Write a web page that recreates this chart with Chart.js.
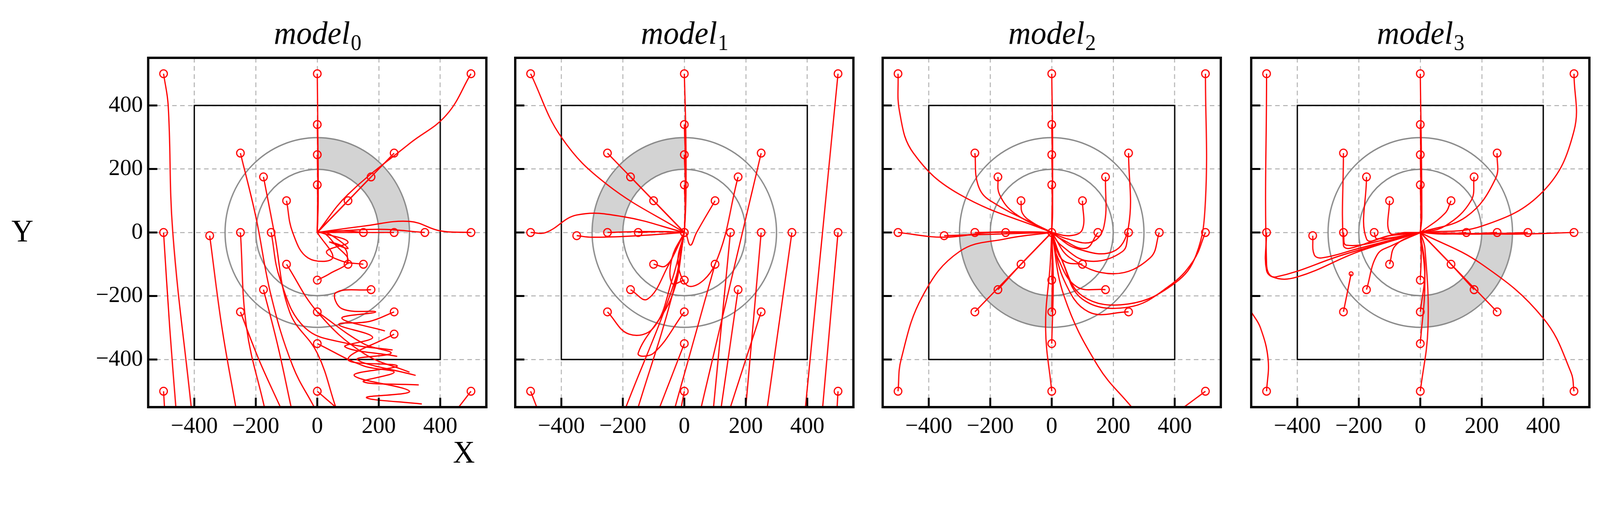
<!DOCTYPE html>
<html>
<head>
<meta charset="utf-8">
<script src="https://cdn.jsdelivr.net/npm/chart.js@4"></script>
<style>
  html, body { margin: 0; background: #fff; overflow: hidden; }
  #stage { position: absolute; left: 0; top: 0; width: 4211px; height: 1295px; transform-origin: 0 0; }
  canvas { position: absolute; top: 0; }
  .lab { position: absolute; font-family: "Liberation Serif", serif; font-size: 80px; color: #000; }
</style>
</head>
<body>
<div id="stage">
  <div class="lab" style="left:1192px; top:1112px;">X</div>
  <div class="lab" style="left:30px; top:546px;">Y</div>
</div>
<script>
// tick values (both axes)
const tickValues = [-400, -200, 0, 200, 400];
const axisMin = -550, axisMax = 550;
const panelTitles = ["0", "1", "2", "3"];
// shaded annulus sector per panel, degrees (counter-clockwise from +x)
const sectorStart = [0, 90, 180, 270];
const sectorEnd = [90, 180, 270, 360];
const innerRadius = 200, outerRadius = 300, boxHalf = 400;

// trajectories, each one starts at its marked start point
const model0 = [
  [[-500,500],[-485,400],[-470,0],[-410,-550]],
  [[0,500],[2,300],[3,100],[0,0]],
  [[500,500],[420,370],[300,280],[100,120],[0,0]],
  [[0,340],[2,200],[0,0]],
  [[0,245],[2,120],[0,0]],
  [[0,150],[2,80],[0,0]],
  [[-250,250],[-200,50],[-150,-200],[-80,-420],[-10,-550]],
  [[250,250],[120,120],[0,0]],
  [[-175,175],[-140,0],[-90,-250],[0,-380],[60,-550]],
  [[175,175],[90,90],[0,0]],
  [[-100,100],[-80,0],[-30,-80],[50,-80],[0,0]],
  [[100,100],[50,50],[0,0]],
  [[-500,0],[-480,-300],[-460,-550]],
  [[-350,-10],[-310,-300],[-265,-550]],
  [[-250,0],[-230,-300],[-172,-550]],
  [[-150,0],[-120,-150],[-40,-300],[100,-350],[245,-370]],
  [[150,0],[80,5],[0,0]],
  [[250,0],[130,0],[0,0]],
  [[350,0],[200,10],[0,0]],
  [[500,0],[400,5],[300,35],[150,20],[0,0]],
  [[-100,-100],[0,-250],[150,-380],[300,-440]],
  [[100,-100],[90,-50],[40,-30],[100,-50],[30,0],[0,0]],
  [[0,-150],[40,-130],[100,-90],[60,-40],[20,0],[0,0]],
  [[-175,-180],[-130,-350],[-85,-550]],
  [[175,-180],[60,-190],[80,-240],[190,-250],[80,-270],[220,-310]],
  [[-250,-250],[-190,-400],[-120,-550]],
  [[250,-250],[170,-280],[70,-290],[180,-330],[90,-360],[260,-390]],
  [[0,-250],[150,-350],[240,-380],[130,-400],[320,-450]],
  [[0,-350],[150,-420],[250,-440],[150,-470],[330,-480]],
  [[-500,-500],[-497,-550]],
  [[0,-500],[60,-550]],
  [[500,-500],[460,-550]],
  [[150,-100],[80,-90],[30,-60],[100,-30],[10,0]],
  [[250,-320],[100,-400],[260,-420],[120,-450],[300,-500],[160,-520],[340,-540]]
];
const model1 = [
  [[-500,500],[-400,300],[-250,150],[0,0]],
  [[0,500],[5,300],[5,100],[0,0]],
  [[500,500],[394,-550]],
  [[0,340],[5,150],[0,0]],
  [[0,245],[4,120],[0,0]],
  [[0,150],[3,60],[0,0]],
  [[-250,250],[-125,125],[0,0]],
  [[250,250],[55,-550]],
  [[-175,175],[-90,90],[0,0]],
  [[175,175],[100,-100],[20,-170],[-20,-100],[0,0]],
  [[-100,100],[-50,50],[0,0]],
  [[100,100],[40,0],[20,-40],[5,0]],
  [[-500,0],[-450,0],[-350,55],[-200,50],[0,0]],
  [[-350,-10],[-300,-15],[-150,-10],[0,0]],
  [[-250,0],[-120,3],[0,0]],
  [[-150,0],[-70,3],[0,0]],
  [[150,0],[95,-550]],
  [[250,0],[200,-550]],
  [[350,0],[270,-550]],
  [[500,0],[450,-550]],
  [[-100,-100],[-60,-105],[-20,-40],[0,0]],
  [[100,-100],[-30,-550]],
  [[0,-150],[-40,-160],[-40,-80],[0,0]],
  [[-175,-180],[-120,-210],[-50,-100],[0,0]],
  [[175,-180],[120,-550]],
  [[-250,-250],[-180,-320],[-100,-300],[-40,-150],[0,0]],
  [[250,-250],[150,-550]],
  [[0,-250],[-100,-380],[-150,-380],[-40,-200],[0,0]],
  [[0,-350],[-80,-550]],
  [[-500,-500],[-480,-550]],
  [[0,-500],[-10,-550]],
  [[500,-500],[497,-550]],
  [[0,0],[-40,-200],[-150,-550]],
  [[0,0],[-30,-150],[-190,-550]]
];
const model2 = [
  [[-500,500],[-495,380],[-450,250],[-300,120],[0,0]],
  [[0,500],[3,250],[0,0]],
  [[500,500],[500,100],[470,-70],[400,-160],[250,-225],[100,-200],[30,-80],[0,0]],
  [[0,340],[3,150],[0,0]],
  [[0,245],[3,120],[0,0]],
  [[0,150],[3,70],[0,0]],
  [[-250,250],[-240,150],[-200,100],[0,0]],
  [[250,250],[250,20],[200,-60],[80,-50],[0,0]],
  [[-175,175],[-170,120],[-120,60],[0,0]],
  [[175,175],[170,20],[130,-30],[50,-20],[0,0]],
  [[-100,100],[-95,60],[-60,30],[0,0]],
  [[100,100],[100,10],[60,-10],[0,0]],
  [[-500,0],[-350,-15],[-200,0],[0,0]],
  [[-350,-10],[-180,-5],[0,0]],
  [[-250,0],[-120,2],[0,0]],
  [[-150,0],[-70,2],[0,0]],
  [[150,0],[110,-50],[30,-20],[0,0]],
  [[250,0],[230,-60],[120,-90],[30,-40],[0,0]],
  [[350,0],[320,-80],[200,-130],[60,-80],[0,0]],
  [[500,0],[460,-90],[380,-170],[250,-235],[100,-210],[30,-80],[0,0]],
  [[-100,-100],[-50,-50],[0,0]],
  [[100,-100],[40,-90],[10,-40],[0,0]],
  [[0,-150],[2,-70],[0,0]],
  [[-175,-180],[-90,-90],[0,0]],
  [[175,-180],[80,-170],[20,-80],[0,0]],
  [[-250,-250],[-125,-125],[0,0]],
  [[250,-250],[120,-250],[40,-150],[0,0]],
  [[0,-250],[2,-120],[0,0]],
  [[0,-350],[5,-150],[0,0]],
  [[-500,-500],[-490,-400],[-420,-200],[-300,-60],[-150,-20],[0,0]],
  [[0,-500],[-20,-300],[-5,-100],[0,0]],
  [[500,-500],[430,-550]],
  [[0,0],[40,-200],[150,-420],[260,-550]]
];
const model3 = [
  [[-500,500],[-500,-100],[-480,-140],[-400,-140],[-200,-60],[0,0]],
  [[0,500],[5,50],[0,0]],
  [[500,500],[500,320],[400,130],[200,20],[0,0]],
  [[0,340],[4,50],[0,0]],
  [[0,245],[3,50],[0,0]],
  [[0,150],[2,40],[0,0]],
  [[-250,250],[-250,-40],[-230,-50],[-100,-10],[0,0]],
  [[250,250],[245,170],[150,50],[0,0]],
  [[-175,175],[-175,-20],[-100,-10],[0,0]],
  [[175,175],[165,100],[80,20],[0,0]],
  [[-100,100],[-100,0],[-50,0],[0,0]],
  [[100,100],[80,60],[0,0]],
  [[-500,0],[-500,-120],[-470,-140],[-250,-70],[0,0]],
  [[-350,-10],[-345,-70],[-320,-80],[-200,-50],[0,0]],
  [[-250,0],[-240,-40],[-100,-20],[0,0]],
  [[-150,0],[-140,-20],[0,0]],
  [[150,0],[80,-5],[0,0]],
  [[250,0],[130,-5],[0,0]],
  [[350,0],[180,-5],[0,0]],
  [[500,0],[300,-5],[0,0]],
  [[-100,-100],[-80,-40],[0,0]],
  [[100,-100],[50,-50],[0,0]],
  [[0,-150],[3,-70],[0,0]],
  [[-175,-180],[-140,-70],[-90,-40],[0,0]],
  [[175,-180],[90,-90],[0,0]],
  [[-250,-250],[-225,-130]],
  [[250,-250],[130,-130],[0,0]],
  [[0,-250],[15,-120],[0,0]],
  [[0,-350],[15,-150],[0,0]],
  [[-500,-500],[-495,-400],[-520,-300],[-550,-250]],
  [[0,-500],[25,-300],[15,-50],[0,0]],
  [[500,-500],[490,-440],[400,-270],[200,-100],[0,0]]
];
const panelData = [model0, model1, model2, model3];
const plotLeft = [390, 1356, 2323, 3293];

const serif = "'Liberation Serif', 'DejaVu Serif', serif";
const stage = document.getElementById("stage");
stage.style.transform = "scale(" + (window.innerWidth / 4211) + "," + (window.innerHeight / 1295) + ")";

function makePanel(i) {
  const cv = document.createElement("canvas");
  cv.width = 1060; cv.height = 1152;
  cv.style.left = (plotLeft[i] - 140) + "px";
  cv.style.width = "1060px"; cv.style.height = "1152px";
  stage.appendChild(cv);

  const decor = {
    id: "decor",
    beforeDatasetsDraw(chart) {
      const c = chart.ctx, xs = chart.scales.x, ys = chart.scales.y;
      const cx = xs.getPixelForValue(0), cy = ys.getPixelForValue(0);
      const pr = r => xs.getPixelForValue(r) - cx;
      c.save();
      c.beginPath();
      c.rect(chart.chartArea.left, chart.chartArea.top, chart.chartArea.width, chart.chartArea.height);
      c.clip();
      const a0 = -sectorEnd[i] * Math.PI / 180, a1 = -sectorStart[i] * Math.PI / 180;
      c.beginPath();
      c.arc(cx, cy, pr(outerRadius), a0, a1);
      c.arc(cx, cy, pr(innerRadius), a1, a0, true);
      c.closePath();
      c.fillStyle = "#d3d3d3";
      c.fill();
      c.strokeStyle = "#8a8a8a";
      c.lineWidth = 3.5;
      [innerRadius, outerRadius].forEach(r => {
        c.beginPath(); c.arc(cx, cy, pr(r), 0, Math.PI * 2); c.stroke();
      });
      c.strokeStyle = "#000";
      c.lineWidth = 3.5;
      const x0 = xs.getPixelForValue(-boxHalf), x1 = xs.getPixelForValue(boxHalf);
      const y0 = ys.getPixelForValue(boxHalf), y1 = ys.getPixelForValue(-boxHalf);
      c.strokeRect(x0, y0, x1 - x0, y1 - y0);
      c.restore();
    },
    afterDraw(chart) {
      const c = chart.ctx, a = chart.chartArea, xs = chart.scales.x, ys = chart.scales.y;
      c.save();
      c.strokeStyle = "#000";
      c.lineWidth = 5;
      tickValues.forEach(v => {
        const px = xs.getPixelForValue(v), py = ys.getPixelForValue(v);
        c.beginPath(); c.moveTo(px, a.bottom); c.lineTo(px, a.bottom - 24); c.stroke();
        c.beginPath(); c.moveTo(a.left, py); c.lineTo(a.left + 24, py); c.stroke();
      });
      c.lineWidth = 6;
      c.strokeRect(a.left, a.top, a.width, a.height);
      const midX = (a.left + a.right) / 2;
      c.fillStyle = "#000";
      c.textBaseline = "alphabetic";
      c.font = "italic 82px " + serif;
      const w1 = c.measureText("model").width;
      c.font = "56px " + serif;
      const w2 = c.measureText(panelTitles[i]).width;
      const sx = midX - (w1 + w2) / 2;
      c.font = "italic 82px " + serif;
      c.fillText("model", sx, 112);
      c.font = "56px " + serif;
      c.fillText(panelTitles[i], sx + w1 + 2, 128);
      c.restore();
    }
  };

  const datasets = panelData[i].map(path => ({
    data: path.map(p => ({ x: p[0], y: p[1] })),
    showLine: true,
    borderColor: "#ff0000",
    borderWidth: 3.2,
    tension: 0.4,
    pointRadius: ctx => ctx.dataIndex === 0 ? 10 : 0,
    pointBorderWidth: 3,
    pointBorderColor: "#ff0000",
    pointBackgroundColor: "rgba(0,0,0,0)"
  }));
  if (i === 3) datasets[25].pointRadius = ctx => ctx.dataIndex === 0 ? 10 : 5;

  const tickFont = { family: serif, size: 60 };
  const gridOpts = { color: "#b0b0b0", lineWidth: 2.5, drawTicks: false };
  const common = {
    type: "linear", min: axisMin, max: axisMax,
    afterBuildTicks: s => { s.ticks = tickValues.map(v => ({ value: v })); },
    border: { display: false, dash: [12, 9] },
    grid: gridOpts
  };
  new Chart(cv, {
    type: "scatter",
    data: { datasets },
    options: {
      responsive: false, animation: false, devicePixelRatio: 1,
      layout: { padding: { top: 148, right: 30, left: 0, bottom: 0 } },
      plugins: { legend: { display: false }, tooltip: { enabled: false } },
      scales: {
        x: Object.assign({}, common, {
          afterFit: s => { s.height = 110; },
          ticks: { font: tickFont, color: "#000", padding: 14, maxRotation: 0,
            callback: v => String(v).replace("-", "\u2212") }
        }),
        y: Object.assign({}, common, {
          afterFit: s => { s.width = 140; },
          ticks: { display: i === 0, font: tickFont, color: "#000", padding: 14,
            callback: v => String(v).replace("-", "\u2212") }
        })
      }
    },
    plugins: [decor]
  });
}
for (let i = 0; i < 4; i++) makePanel(i);
</script>
</body>
</html>
